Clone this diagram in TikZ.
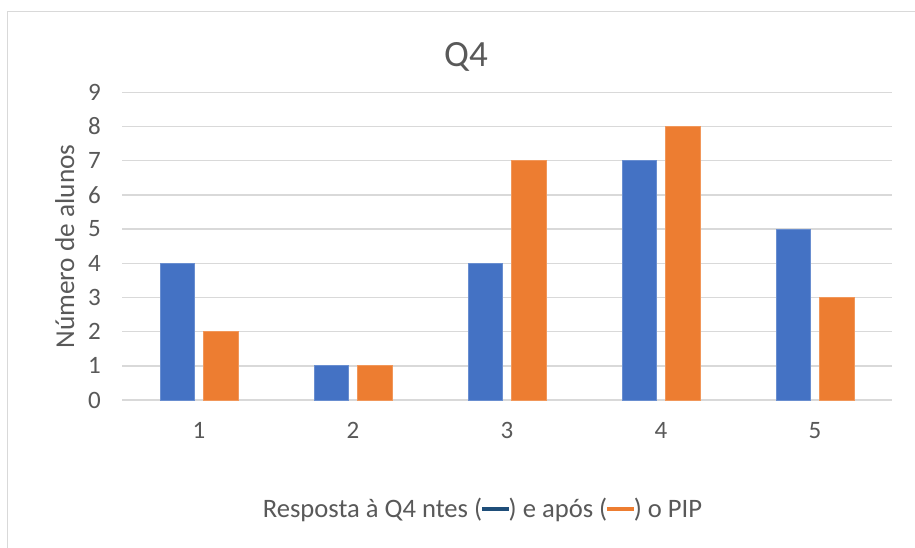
\documentclass[tikz,border=0pt]{standalone}
\usepackage{fontspec}
\setmainfont{Carlito}
\definecolor{barblue}{HTML}{4472C4}
\definecolor{barorange}{HTML}{ED7D31}
\definecolor{gridgray}{HTML}{D9D9D9}
\definecolor{txtgray}{HTML}{595959}
\definecolor{legblue}{HTML}{1F4E79}
\begin{document}
\begin{tikzpicture}[x=1pt,y=-1pt,
  grid/.style={draw=gridgray,line width=1.4pt},
  tick/.style={text=txtgray,font=\fontsize{25}{30}\selectfont,inner sep=0pt},
  bluebar/.style={fill=barblue,draw=barblue!80!white,line width=0.8pt},
  orangebar/.style={fill=barorange,draw=barorange!80!white,line width=0.8pt}]
\useasboundingbox (0,0) rectangle (915,548);
\fill[white] (0,0) rectangle (915,548);
\draw[draw=gridgray,line width=1.5pt] (7.5,548) -- (7.5,11.5) -- (915,11.5);
% gridlines and y ticks
\foreach \k in {0,...,9}{
  \draw[grid] (122,{400-34.19*\k}) -- (892,{400-34.19*\k});
  \node[tick,anchor=east] (y\k) at (101,{400-34.19*\k}) {\k};
}
% bars
\foreach \i/\b/\o in {1/4/2,2/1/1,3/4/7,4/7/8,5/5/3}{
  \pgfmathsetmacro{\cx}{199+154*(\i-1)}
  \draw[bluebar] ({\cx-39},400) rectangle ({\cx-4.5},{400-34.19*\b});
  \draw[orangebar] ({\cx+4.5},400) rectangle ({\cx+39},{400-34.19*\o});
  \node[tick,anchor=base] (x\i) at (\cx,438.5) {\i};
}
\node[text=txtgray,font=\fontsize{37}{44}\selectfont,inner sep=0pt,anchor=base] (title) at (466,67) {Q4};
\node[text=txtgray,font=\fontsize{27.3}{32}\selectfont,inner sep=0pt,anchor=base,rotate=90] (ylab) at (74,246.5) {Número de alunos};
\node[text=txtgray,font=\fontsize{26.6}{31}\selectfont,inner sep=0pt,anchor=base] (xlab) at (482.5,517) {Resposta à Q4 ntes (\textcolor{legblue}{\rule[0.22em]{1em}{0.16em}}) e após (\textcolor{barorange}{\rule[0.22em]{1em}{0.16em}}) o PIP};
\end{tikzpicture}
\end{document}
